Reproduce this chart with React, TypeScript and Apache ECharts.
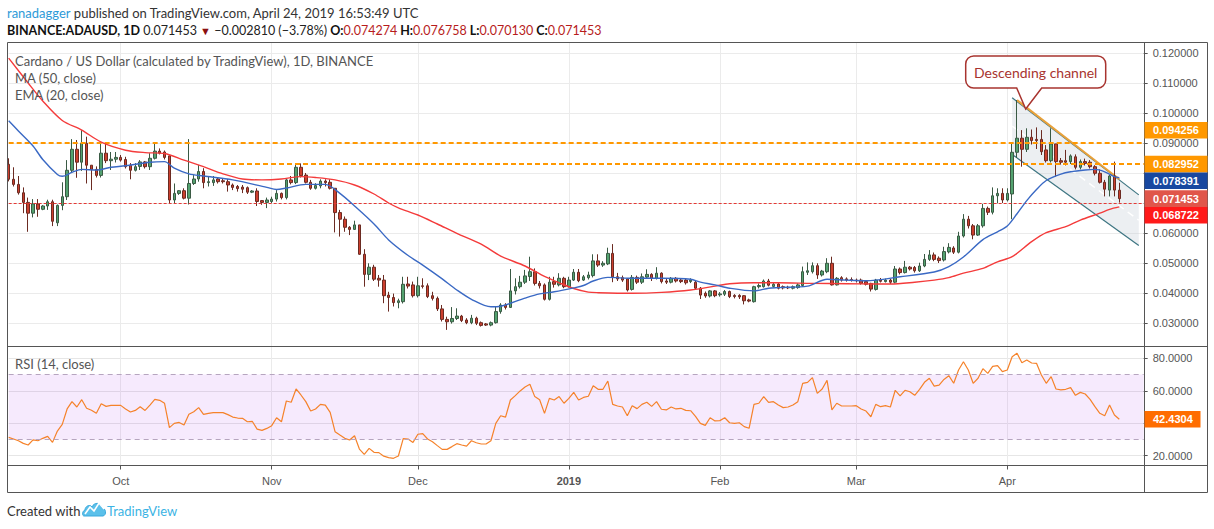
import React, { useEffect, useRef } from 'react';
import * as echarts from 'echarts';

// ---------- categories (one per day, Sep 8 2018 .. Apr 29 2019) ----------
const FIRST_DAY = Date.UTC(2018, 8, 8);
const DAY_COUNT = 234;
const categories: string[] = Array.from({ length: DAY_COUNT }, (_, i) =>
  new Date(FIRST_DAY + i * 86400000).toISOString().slice(0, 10)
);
const MONTH_NAMES = ['Jan', 'Feb', 'Mar', 'Apr', 'May', 'Jun', 'Jul', 'Aug', 'Sep', 'Oct', 'Nov', 'Dec'];

// ---------- daily OHLC ----------
const opens = [
  0.0829, 0.0779, 0.0762, 0.0734, 0.0702, 0.0666, 0.0697, 0.0679, 0.0690, 0.0704,
  0.0634, 0.0692, 0.0721, 0.0809, 0.0879, 0.0836, 0.0899, 0.0826, 0.0812, 0.0792,
  0.0866, 0.0841, 0.0846, 0.0852, 0.0845, 0.0826, 0.0809, 0.0822, 0.0837, 0.0821,
  0.0849, 0.0873, 0.0870, 0.0857, 0.0710, 0.0732, 0.0741, 0.0716, 0.0765, 0.0780,
  0.0805, 0.0768, 0.0768, 0.0780, 0.0774, 0.0771, 0.0760, 0.0755, 0.0753, 0.0751,
  0.0736, 0.0740, 0.0708, 0.0702, 0.0705, 0.0713, 0.0732, 0.0718, 0.0777, 0.0768,
  0.0819, 0.0793, 0.0769, 0.0749, 0.0757, 0.0773, 0.0769, 0.0749, 0.0668, 0.0646,
  0.0619, 0.0612, 0.0627, 0.0529, 0.0462, 0.0486, 0.0449, 0.0443, 0.0393, 0.0385,
  0.0368, 0.0371, 0.0430, 0.0427, 0.0391, 0.0424, 0.0424, 0.0391, 0.0382, 0.0347,
  0.0312, 0.0304, 0.0315, 0.0323, 0.0310, 0.0301, 0.0316, 0.0301, 0.0297, 0.0293,
  0.0301, 0.0338, 0.0360, 0.0352, 0.0407, 0.0421, 0.0436, 0.0455, 0.0471, 0.0432,
  0.0427, 0.0379, 0.0438, 0.0427, 0.0449, 0.0421, 0.0443, 0.0469, 0.0443, 0.0451,
  0.0458, 0.0507, 0.0493, 0.0497, 0.0532, 0.0454, 0.0451, 0.0447, 0.0412, 0.0452,
  0.0436, 0.0453, 0.0462, 0.0449, 0.0466, 0.0440, 0.0436, 0.0449, 0.0443, 0.0443,
  0.0438, 0.0436, 0.0416, 0.0399, 0.0390, 0.0407, 0.0394, 0.0396, 0.0405, 0.0392,
  0.0392, 0.0391, 0.0377, 0.0371, 0.0421, 0.0421, 0.0440, 0.0422, 0.0430, 0.0421,
  0.0419, 0.0416, 0.0418, 0.0425, 0.0469, 0.0471, 0.0491, 0.0460, 0.0471, 0.0499,
  0.0427, 0.0451, 0.0447, 0.0445, 0.0443, 0.0443, 0.0438, 0.0432, 0.0412, 0.0443,
  0.0438, 0.0443, 0.0436, 0.0480, 0.0468, 0.0486, 0.0485, 0.0474, 0.0490, 0.0512,
  0.0527, 0.0516, 0.0510, 0.0537, 0.0550, 0.0536, 0.0590, 0.0646, 0.0624, 0.0593,
  0.0624, 0.0682, 0.0669, 0.0724, 0.0732, 0.0710, 0.0730, 0.0869, 0.0916, 0.0879,
  0.0919, 0.0912, 0.0912, 0.0877, 0.0841, 0.0897, 0.0841, 0.0841, 0.0838, 0.0854,
  0.0819, 0.0838, 0.0836, 0.0821, 0.0799, 0.0769, 0.0743, 0.0790, 0.074274,
];
const closes = [
  0.0779, 0.0762, 0.0734, 0.0702, 0.0666, 0.0697, 0.0679, 0.0690, 0.0704, 0.0639,
  0.0692, 0.0721, 0.0809, 0.0879, 0.0836, 0.0899, 0.0826, 0.0812, 0.0792, 0.0866,
  0.0841, 0.0846, 0.0852, 0.0843, 0.0821, 0.0809, 0.0821, 0.0837, 0.0821, 0.0849,
  0.0873, 0.0866, 0.0852, 0.0710, 0.0732, 0.0741, 0.0716, 0.0765, 0.0780, 0.0805,
  0.0768, 0.0771, 0.0777, 0.0771, 0.0771, 0.0760, 0.0752, 0.0748, 0.0746, 0.0736,
  0.0740, 0.0705, 0.0702, 0.0710, 0.0713, 0.0732, 0.0718, 0.0777, 0.0768, 0.0819,
  0.0791, 0.0769, 0.0749, 0.0758, 0.0773, 0.0768, 0.0749, 0.0668, 0.0646, 0.0619,
  0.0612, 0.0627, 0.0529, 0.0462, 0.0486, 0.0446, 0.0443, 0.0391, 0.0385, 0.0368,
  0.0374, 0.0429, 0.0423, 0.0391, 0.0424, 0.0422, 0.0388, 0.0382, 0.0347, 0.0312,
  0.0304, 0.0315, 0.0323, 0.0308, 0.0301, 0.0316, 0.0299, 0.0292, 0.0293, 0.0301,
  0.0338, 0.0360, 0.0352, 0.0407, 0.0421, 0.0436, 0.0457, 0.0471, 0.0432, 0.0424,
  0.0379, 0.0436, 0.0429, 0.0449, 0.0421, 0.0443, 0.0469, 0.0441, 0.0454, 0.0460,
  0.0507, 0.0493, 0.0499, 0.0532, 0.0454, 0.0447, 0.0443, 0.0410, 0.0452, 0.0436,
  0.0454, 0.0462, 0.0449, 0.0466, 0.0438, 0.0436, 0.0449, 0.0440, 0.0438, 0.0434,
  0.0443, 0.0416, 0.0393, 0.0390, 0.0407, 0.0391, 0.0397, 0.0405, 0.0388, 0.0388,
  0.0387, 0.0374, 0.0373, 0.0421, 0.0425, 0.0440, 0.0426, 0.0429, 0.0416, 0.0417,
  0.0417, 0.0421, 0.0427, 0.0471, 0.0474, 0.0491, 0.0460, 0.0473, 0.0499, 0.0427,
  0.0449, 0.0443, 0.0443, 0.0443, 0.0441, 0.0432, 0.0429, 0.0413, 0.0443, 0.0439,
  0.0443, 0.0436, 0.0480, 0.0468, 0.0486, 0.0480, 0.0474, 0.0490, 0.0512, 0.0527,
  0.0512, 0.0508, 0.0538, 0.0552, 0.0536, 0.0590, 0.0646, 0.0624, 0.0593, 0.0624,
  0.0682, 0.0669, 0.0724, 0.0732, 0.0710, 0.0732, 0.0869, 0.0916, 0.0879, 0.0919,
  0.0908, 0.0908, 0.0871, 0.0841, 0.0897, 0.0838, 0.0836, 0.0836, 0.0857, 0.0819,
  0.0838, 0.0832, 0.0821, 0.0799, 0.0769, 0.0746, 0.0790, 0.0743, 0.071453,
];
const lows = [
  0.0772, 0.0755, 0.0728, 0.0666, 0.0604, 0.0652, 0.0654, 0.0676, 0.0677, 0.0623,
  0.0623, 0.0676, 0.0710, 0.0800, 0.0784, 0.0807, 0.0765, 0.0743, 0.0785, 0.0785,
  0.0833, 0.0810, 0.0835, 0.0838, 0.0815, 0.0779, 0.0805, 0.0810, 0.0815, 0.0810,
  0.0845, 0.0862, 0.0845, 0.0699, 0.0699, 0.0727, 0.0712, 0.0695, 0.0760, 0.0771,
  0.0749, 0.0755, 0.0757, 0.0765, 0.0765, 0.0738, 0.0743, 0.0738, 0.0733, 0.0730,
  0.0733, 0.0690, 0.0694, 0.0683, 0.0700, 0.0705, 0.0712, 0.0712, 0.0762, 0.0763,
  0.0785, 0.0765, 0.0744, 0.0745, 0.0749, 0.0755, 0.0745, 0.0602, 0.0588, 0.0604,
  0.0593, 0.0610, 0.0527, 0.0421, 0.0443, 0.0440, 0.0421, 0.0366, 0.0338, 0.0355,
  0.0349, 0.0365, 0.0415, 0.0385, 0.0385, 0.0415, 0.0383, 0.0375, 0.0340, 0.0305,
  0.0277, 0.0298, 0.0310, 0.0303, 0.0296, 0.0296, 0.0293, 0.0288, 0.0290, 0.0289,
  0.0298, 0.0331, 0.0345, 0.0350, 0.0395, 0.0415, 0.0430, 0.0440, 0.0425, 0.0415,
  0.0375, 0.0375, 0.0418, 0.0422, 0.0416, 0.0418, 0.0440, 0.0436, 0.0440, 0.0445,
  0.0452, 0.0487, 0.0487, 0.0493, 0.0436, 0.0440, 0.0437, 0.0405, 0.0408, 0.0430,
  0.0430, 0.0448, 0.0440, 0.0445, 0.0432, 0.0430, 0.0432, 0.0435, 0.0433, 0.0428,
  0.0433, 0.0410, 0.0380, 0.0384, 0.0385, 0.0386, 0.0388, 0.0390, 0.0383, 0.0382,
  0.0380, 0.0362, 0.0369, 0.0368, 0.0415, 0.0418, 0.0422, 0.0418, 0.0412, 0.0412,
  0.0413, 0.0412, 0.0414, 0.0420, 0.0460, 0.0465, 0.0447, 0.0455, 0.0466, 0.0425,
  0.0425, 0.0438, 0.0438, 0.0438, 0.0435, 0.0428, 0.0425, 0.0405, 0.0408, 0.0435,
  0.0435, 0.0430, 0.0432, 0.0462, 0.0465, 0.0475, 0.0468, 0.0470, 0.0486, 0.0507,
  0.0506, 0.0500, 0.0505, 0.0532, 0.0530, 0.0532, 0.0585, 0.0615, 0.0579, 0.0590,
  0.0618, 0.0660, 0.0662, 0.0699, 0.0700, 0.0705, 0.0646, 0.0850, 0.0821, 0.0870,
  0.0895, 0.0880, 0.0860, 0.0835, 0.0835, 0.0788, 0.0828, 0.0825, 0.0830, 0.0812,
  0.0812, 0.0825, 0.0815, 0.0792, 0.0765, 0.0722, 0.0722, 0.0722, 0.070130,
];
const highs = [
  0.0849, 0.0819, 0.0790, 0.0752, 0.0718, 0.0713, 0.0713, 0.0693, 0.0711, 0.0711,
  0.0695, 0.0769, 0.0843, 0.0913, 0.0910, 0.0943, 0.0921, 0.0826, 0.0822, 0.0899,
  0.0897, 0.0870, 0.0870, 0.0860, 0.0854, 0.0833, 0.0833, 0.0843, 0.0840, 0.0866,
  0.0898, 0.0882, 0.0875, 0.0859, 0.0765, 0.0743, 0.0749, 0.0913, 0.0793, 0.0827,
  0.0816, 0.0788, 0.0790, 0.0785, 0.0781, 0.0780, 0.0765, 0.0760, 0.0760, 0.0755,
  0.0743, 0.0749, 0.0710, 0.0718, 0.0721, 0.0743, 0.0735, 0.0780, 0.0790, 0.0832,
  0.0832, 0.0800, 0.0777, 0.0766, 0.0779, 0.0779, 0.0779, 0.0749, 0.0677, 0.0655,
  0.0623, 0.0641, 0.0627, 0.0546, 0.0499, 0.0494, 0.0460, 0.0460, 0.0404, 0.0398,
  0.0381, 0.0454, 0.0454, 0.0438, 0.0454, 0.0449, 0.0432, 0.0404, 0.0388, 0.0360,
  0.0321, 0.0353, 0.0349, 0.0327, 0.0316, 0.0327, 0.0321, 0.0305, 0.0300, 0.0305,
  0.0354, 0.0366, 0.0366, 0.0480, 0.0449, 0.0457, 0.0477, 0.0521, 0.0482, 0.0440,
  0.0432, 0.0454, 0.0454, 0.0466, 0.0454, 0.0454, 0.0480, 0.0480, 0.0460, 0.0471,
  0.0529, 0.0529, 0.0506, 0.0551, 0.0563, 0.0467, 0.0458, 0.0449, 0.0460, 0.0458,
  0.0465, 0.0479, 0.0466, 0.0486, 0.0469, 0.0449, 0.0453, 0.0453, 0.0447, 0.0447,
  0.0449, 0.0440, 0.0420, 0.0405, 0.0410, 0.0410, 0.0403, 0.0410, 0.0408, 0.0396,
  0.0396, 0.0393, 0.0381, 0.0424, 0.0432, 0.0445, 0.0447, 0.0434, 0.0434, 0.0425,
  0.0424, 0.0425, 0.0432, 0.0488, 0.0502, 0.0502, 0.0499, 0.0477, 0.0516, 0.0521,
  0.0453, 0.0456, 0.0452, 0.0452, 0.0448, 0.0448, 0.0443, 0.0434, 0.0447, 0.0450,
  0.0448, 0.0447, 0.0490, 0.0485, 0.0507, 0.0490, 0.0490, 0.0501, 0.0530, 0.0543,
  0.0535, 0.0522, 0.0554, 0.0566, 0.0556, 0.0604, 0.0663, 0.0657, 0.0630, 0.0630,
  0.0697, 0.0688, 0.0752, 0.0749, 0.0749, 0.0749, 0.0899, 0.1043, 0.0943, 0.0949,
  0.0945, 0.0952, 0.0943, 0.0893, 0.0949, 0.0897, 0.0850, 0.0877, 0.0862, 0.0862,
  0.0845, 0.0848, 0.0843, 0.0826, 0.0812, 0.0777, 0.0793, 0.0838, 0.076758,
];

// ---------- RSI (14, close), one value per candle ----------
const rsiValues = [
  31.3, 30.3, 29.2, 27.6, 26.6, 29.7, 29.2, 30.7, 31.9, 28.2,
  35.2, 39.3, 48.8, 53.3, 50.0, 54.5, 49.2, 48.0, 46.1, 52.0,
  50.4, 51.0, 51.0, 51.0, 48.8, 46.9, 47.9, 50.2, 47.9, 51.2,
  54.7, 54.1, 52.3, 37.3, 39.9, 40.5, 38.9, 45.5, 47.1, 49.6,
  45.5, 46.1, 46.5, 46.5, 46.5, 45.3, 43.8, 43.2, 43.0, 40.9,
  41.2, 36.4, 35.6, 36.8, 38.5, 43.4, 40.9, 53.7, 52.9, 61.1,
  57.4, 53.3, 47.5, 48.8, 51.6, 51.2, 46.7, 34.8, 32.7, 30.7,
  29.7, 32.3, 24.1, 20.8, 24.5, 22.1, 21.9, 19.7, 18.8, 18.4,
  19.8, 30.5, 30.3, 28.2, 33.2, 33.6, 30.3, 28.6, 26.2, 23.9,
  23.9, 25.6, 27.4, 26.6, 25.9, 29.2, 28.0, 27.2, 27.2, 29.2,
  39.9, 44.6, 43.8, 54.3, 57.0, 59.9, 62.3, 64.0, 56.4, 54.5,
  46.1, 55.3, 54.3, 56.4, 52.3, 55.3, 59.0, 54.3, 55.9, 56.6,
  63.1, 60.9, 60.9, 66.0, 51.6, 50.6, 50.0, 44.6, 50.8, 49.0,
  51.6, 52.9, 50.4, 53.3, 48.6, 48.2, 50.0, 48.8, 49.2, 47.9,
  47.7, 44.2, 39.9, 38.7, 43.4, 41.4, 41.6, 43.4, 40.3, 39.9,
  40.3, 37.9, 36.9, 51.6, 52.3, 56.4, 52.9, 53.3, 51.2, 49.6,
  50.0, 51.2, 53.3, 64.6, 65.2, 68.1, 58.4, 61.1, 66.4, 48.2,
  52.3, 50.6, 50.6, 50.6, 50.8, 48.8, 47.5, 44.0, 51.6, 50.2,
  50.8, 50.0, 60.3, 56.8, 60.3, 59.4, 57.2, 60.9, 65.2, 67.7,
  62.9, 63.5, 67.0, 69.3, 64.6, 72.8, 77.9, 72.8, 64.6, 67.7,
  73.6, 70.7, 75.0, 75.5, 71.8, 72.8, 81.0, 83.1, 77.3, 78.9,
  77.1, 76.9, 69.7, 64.6, 68.7, 61.1, 60.5, 60.9, 61.9, 57.2,
  59.0, 58.0, 54.7, 50.2, 46.1, 44.6, 51.2, 45.1, 42.4304,
];

// ---------- moving averages: [day index, value] ----------
const ma50Points: [number, number][] = [
  [0, 0.1183], [4, 0.1100], [7, 0.1040], [11, 0.0975], [15, 0.0943], [19, 0.0903],
  [24, 0.0876], [28, 0.0868], [32, 0.0865], [36, 0.0843], [40, 0.0821], [44, 0.0797],
  [48, 0.0780], [52, 0.0777], [56, 0.0780], [60, 0.0788], [63, 0.0785], [67, 0.0777],
  [71, 0.0760], [75, 0.0730], [78, 0.0700], [80, 0.0684], [84, 0.0660], [88, 0.0630],
  [92, 0.0599], [97, 0.0563], [101, 0.0523], [106, 0.0490], [110, 0.0455], [113, 0.0434],
  [116, 0.0415], [119, 0.0403], [121, 0.0401], [128, 0.0399], [134, 0.0402], [140, 0.0410],
  [145, 0.0423], [148, 0.0431], [153, 0.0434], [158, 0.0434], [165, 0.0432], [172, 0.0431],
  [178, 0.0430], [181, 0.0430], [186, 0.0436], [190, 0.0443], [193, 0.0451], [196, 0.0466],
  [200, 0.0482], [203, 0.0504], [206, 0.0521], [210, 0.0571], [213, 0.0601], [217, 0.0621],
  [220, 0.0643], [224, 0.0666], [226, 0.0679], [228, 0.0687],
];
const ema20Points: [number, number][] = [
  [0, 0.0974], [2, 0.0940], [5, 0.0890], [7, 0.0845], [10, 0.0795], [11, 0.0789],
  [13, 0.0802], [15, 0.0812], [18, 0.0810], [21, 0.0819], [24, 0.0824], [29, 0.0836],
  [32, 0.0838], [34, 0.0816], [37, 0.0797], [40, 0.0790], [46, 0.0777], [53, 0.0752],
  [55, 0.0745], [57, 0.0750], [61, 0.0762], [65, 0.0762], [68, 0.0732], [71, 0.0690],
  [75, 0.0630], [78, 0.0577], [82, 0.0525], [85, 0.0493], [89, 0.0447], [92, 0.0410],
  [95, 0.0379], [99, 0.0354], [101, 0.0356], [106, 0.0383], [109, 0.0397], [112, 0.0404],
  [116, 0.0417], [118, 0.0425], [120, 0.0440], [123, 0.0452], [128, 0.0449], [134, 0.0449],
  [140, 0.0446], [142, 0.0436], [145, 0.0427], [148, 0.0416], [153, 0.0407], [156, 0.0416],
  [158, 0.0418], [164, 0.0423], [168, 0.0446], [172, 0.0443], [176, 0.0441], [183, 0.0454],
  [190, 0.0470], [193, 0.0488], [196, 0.0520], [200, 0.0578], [203, 0.0604], [205, 0.0623],
  [207, 0.0664], [209, 0.0708], [211, 0.0745], [213, 0.0775], [216, 0.0796], [218, 0.0804],
  [221, 0.0810], [223, 0.0812], [225, 0.0804], [227, 0.0788], [228, 0.0784],
];

// ---------- drawings ----------
const resistanceHigh = 0.094256;
const resistanceLow = 0.082952;
const resistanceLowStartDay = 44;
const lastClose = 0.071453;
const channelX = [206, 232];
const channelTop = [0.1051, 0.0727];
const channelBottom = [0.0862, 0.0558];
const trendX = [207, 228];
const trendY = [0.1043, 0.0779];

const priceTags = [
  { value: 0.094256, color: '#FF9800' },
  { value: 0.082952, color: '#FF9800' },
  { value: 0.078391, color: '#1848A0' },
  { value: 0.071453, color: '#E0564A' },
  { value: 0.068722, color: '#FF1A1A' },
];
const rsiLast = 42.4304;

// callout bubble and logo shapes
echarts.graphic.registerShape(
  'callout',
  echarts.graphic.extendPath(
    'M8,0 L132,0 A8,8 0 0 1 140,8 L140,24 A8,8 0 0 1 132,32 L76,32 L60,53 L51,32 L8,32 A8,8 0 0 1 0,24 L0,8 A8,8 0 0 1 8,0 Z',
    {}
  )
);
echarts.graphic.registerShape(
  'tvlogo',
  echarts.graphic.extendPath(
    'M2,17 C0,17 0,12 3,11 C3,7 8,5 10,8 C12,3 19,3 20,9 C24,9 25,16 21,17 Z',
    {}
  )
);

const FONT = 'Lato, "Noto Sans", sans-serif';
const AXIS_FONT = '"Liberation Sans", Arial, sans-serif';
const isMonthStart = (index: number) => categories[index] && categories[index].slice(8) === '01';

// axis labels that the reference shows hidden under a value tag
const hiddenUnderPriceTag = (v: number) => priceTags.some((t) => Math.abs(t.value - v) < 0.0025);
const hiddenUnderRsiTag = (v: number) => Math.abs(rsiLast - v) < 5;

function buildOption(): any {
  const candleData = opens.map((o, i) => [o, closes[i], lows[i], highs[i]]);
  return {
    animation: false,
    backgroundColor: '#ffffff',
    grid: [
      { left: 8.67, top: 42.5, width: 1135, height: 303.5 },
      { left: 8.67, top: 346.5, width: 1135, height: 119 },
    ],
    xAxis: [
      {
        type: 'category', gridIndex: 0, data: categories, boundaryGap: false,
        axisLine: { show: false }, axisTick: { show: false }, axisLabel: { show: false },
        splitLine: { show: true, interval: isMonthStart, lineStyle: { color: '#ebebeb', width: 1 } },
      },
      {
        type: 'category', gridIndex: 1, data: categories, boundaryGap: false,
        axisLine: { show: false },
        axisTick: { show: true, interval: isMonthStart, length: 4, lineStyle: { color: '#555' } },
        axisLabel: {
          show: true, interval: isMonthStart, margin: 10, color: '#555', fontSize: 11, fontFamily: AXIS_FONT,
          formatter: (value: string) => {
            const m = Number(value.slice(5, 7)) - 1;
            return m === 0 ? '{y|' + value.slice(0, 4) + '}' : MONTH_NAMES[m];
          },
          rich: { y: { fontWeight: 'bold', color: '#555', fontSize: 11, fontFamily: AXIS_FONT } },
        },
        splitLine: { show: true, interval: isMonthStart, lineStyle: { color: '#ebebeb', width: 1 } },
      },
    ],
    yAxis: [
      {
        type: 'value', gridIndex: 0, position: 'right', min: 0.02233, max: 0.1235,
        minInterval: 0.01, maxInterval: 0.01, splitNumber: 10,
        axisLine: { show: false },
        axisTick: { show: true, length: 4, lineStyle: { color: '#555' } },
        axisLabel: {
          showMinLabel: false, showMaxLabel: false, margin: 9, color: '#555', fontSize: 11, fontFamily: AXIS_FONT,
          formatter: (v: number) => (hiddenUnderPriceTag(v) ? '' : v.toFixed(6)),
        },
        splitLine: { show: true, lineStyle: { color: '#ebebeb', width: 1 } },
      },
      {
        type: 'value', gridIndex: 1, position: 'right', min: 13.96, max: 87.27,
        minInterval: 20, maxInterval: 20, splitNumber: 4,
        axisLine: { show: false },
        axisTick: { show: true, length: 4, lineStyle: { color: '#555' } },
        axisLabel: {
          showMinLabel: false, showMaxLabel: false, margin: 9, color: '#555', fontSize: 11, fontFamily: AXIS_FONT,
          formatter: (v: number) => (hiddenUnderRsiTag(v) ? '' : v.toFixed(4)),
        },
        splitLine: { show: true, lineStyle: { color: '#e6e6e6', width: 1 } },
      },
    ],
    series: [
      {
        type: 'custom', name: 'channel', xAxisIndex: 0, yAxisIndex: 0, z: 1, silent: true, clip: true,
        data: [[channelX[0], channelTop[0]]],
        encode: { x: 0, y: 1 },
        renderItem: (_params: any, api: any) => {
          const tl = api.coord([channelX[0], channelTop[0]]);
          const tr = api.coord([channelX[1], channelTop[1]]);
          const bl = api.coord([channelX[0], channelBottom[0]]);
          const br = api.coord([channelX[1], channelBottom[1]]);
          const ml = [(tl[0] + bl[0]) / 2, (tl[1] + bl[1]) / 2];
          const mr = [(tr[0] + br[0]) / 2, (tr[1] + br[1]) / 2];
          const t0 = api.coord([trendX[0], trendY[0]]);
          const t1 = api.coord([trendX[1], trendY[1]]);
          return {
            type: 'group',
            children: [
              { type: 'polygon', shape: { points: [tl, tr, br, bl] }, style: { fill: 'rgba(196,204,216,0.32)' } },
              { type: 'line', shape: { x1: ml[0], y1: ml[1], x2: mr[0], y2: mr[1] }, style: { stroke: '#ffffff', lineWidth: 1.5, lineDash: [7, 5] } },
              { type: 'line', shape: { x1: tl[0], y1: tl[1], x2: tr[0], y2: tr[1] }, style: { stroke: '#3d7582', lineWidth: 1.2 } },
              { type: 'line', shape: { x1: bl[0], y1: bl[1], x2: br[0], y2: br[1] }, style: { stroke: '#3d7582', lineWidth: 1.2 } },
              { type: 'line', z2: 10, shape: { x1: t0[0], y1: t0[1], x2: t1[0], y2: t1[1] }, style: { stroke: '#E8A13A', lineWidth: 2 } },
            ],
          };
        },
      },
      {
        type: 'candlestick', name: 'ADAUSD', xAxisIndex: 0, yAxisIndex: 0, barWidth: 3, z: 3,
        data: candleData,
        itemStyle: {
          color: '#53A26F', color0: '#CC3F2E',
          borderColor: '#3A5A44', borderColor0: '#6B2B22', borderWidth: 1,
        },
        markLine: {
          symbol: ['none', 'none'], silent: true, label: { show: false }, z: 4,
          data: [
            { yAxis: resistanceHigh, lineStyle: { color: '#FF9800', width: 2, type: [5, 3] } },
            [
              { coord: [categories[resistanceLowStartDay], resistanceLow], lineStyle: { color: '#FF9800', width: 2, type: [5, 3] } },
              { coord: [categories[DAY_COUNT - 1], resistanceLow] },
            ],
            { yAxis: lastClose, lineStyle: { color: '#E53935', width: 1, type: [3, 2] } },
          ],
        },
      },
      {
        type: 'line', name: 'MA (50, close)', xAxisIndex: 0, yAxisIndex: 0, z: 4,
        data: ma50Points.map(([i, v]) => [categories[i], v]),
        smooth: 0.3, showSymbol: false, color: '#F43B3B',
        lineStyle: { color: '#F43B3B', width: 1.4 },
      },
      {
        type: 'line', name: 'EMA (20, close)', xAxisIndex: 0, yAxisIndex: 0, z: 4,
        data: ema20Points.map(([i, v]) => [categories[i], v]),
        smooth: 0.3, showSymbol: false, color: '#3A69C4',
        lineStyle: { color: '#3A69C4', width: 1.4 },
      },
      {
        type: 'line', name: 'RSI (14, close)', xAxisIndex: 1, yAxisIndex: 1, z: 4,
        data: rsiValues, showSymbol: false, color: '#F5822A',
        lineStyle: { color: '#F5822A', width: 1.2 },
        markArea: {
          silent: true, itemStyle: { color: 'rgba(170,60,240,0.11)' },
          data: [[{ yAxis: 30 }, { yAxis: 70 }]],
        },
        markLine: {
          symbol: ['none', 'none'], silent: true, label: { show: false },
          lineStyle: { color: '#B6A5BF', width: 1, type: [5, 4] },
          data: [{ yAxis: 30 }, { yAxis: 70 }],
        },
      },
    ],
  };
}

function staticGraphics(): any[] {
  const frame = '#555555';
  const line = (x1: number, y1: number, x2: number, y2: number) => ({
    type: 'line', z: 100, silent: true, shape: { x1, y1, x2, y2 }, style: { stroke: frame, lineWidth: 1 },
  });
  const txt = (x: number, y: number, text: string, size: number, color: string, extra: any = {}) => ({
    type: 'text', z: 100, silent: true, x, y,
    style: { text, fill: color, fontSize: size, fontFamily: FONT, verticalAlign: 'middle', ...extra },
  });
  return [
    // header
    {
      type: 'text', z: 100, x: 7, y: 13, silent: true,
      style: {
        text: '{u|ranadagger}{n| published on TradingView.com, April 24, 2019 16:53:49 UTC}',
        verticalAlign: 'middle', fontFamily: FONT, fontSize: 13,
        rich: {
          u: { fill: '#2D9AD8', fontFamily: FONT, fontSize: 13 },
          n: { fill: '#333333', fontFamily: FONT, fontSize: 13 },
        },
      },
    },
    {
      type: 'text', z: 100, x: 7, y: 30, silent: true,
      style: {
        text: '{b|BINANCE:ADAUSD, 1D}{n| 0.071453 }{r|▼}{n| −0.002810 (−3.78%) }{b|O:}{v|0.074274}{b| H:}{v|0.076758}{b| L:}{v|0.070130}{b| C:}{v|0.071453}',
        verticalAlign: 'middle', fontFamily: FONT, fontSize: 12.5,
        rich: {
          b: { fill: '#111111', fontWeight: 'bold', fontFamily: FONT, fontSize: 12.5 },
          n: { fill: '#222222', fontFamily: FONT, fontSize: 12.5 },
          r: { fill: '#8B1010', fontFamily: FONT, fontSize: 11 },
          v: { fill: '#B71C1C', fontFamily: FONT, fontSize: 12.5 },
        },
      },
    },
    // frame
    line(7.5, 42.5, 1207.5, 42.5),
    line(7.5, 492.5, 1207.5, 492.5),
    line(7.5, 42.5, 7.5, 492.5),
    line(1207.5, 42.5, 1207.5, 492.5),
    line(7.5, 346.5, 1207.5, 346.5),
    line(7.5, 465.5, 1207.5, 465.5),
    line(1144.5, 42.5, 1144.5, 492.5),
    // pane legends
    txt(15, 61, 'Cardano / US Dollar (calculated by TradingView), 1D, BINANCE', 13, '#555555'),
    txt(15, 78, 'MA (50, close)', 13, '#555555'),
    txt(15, 95, 'EMA (20, close)', 13, '#555555'),
    txt(15, 364, 'RSI (14, close)', 13, '#555555'),
    // callout
    { type: 'callout', z: 100, x: 965.7, y: 56, silent: true, style: { fill: '#ffffff', stroke: '#A8342F', lineWidth: 1.5 } },
    txt(1035.7, 72.5, 'Descending channel', 14, '#A8342F', { align: 'center' }),
    // footer
    txt(7, 511, 'Created with', 13, '#333333'),
    { type: 'tvlogo', z: 100, x: 82, y: 499, silent: true, style: { fill: '#5BC0EA', stroke: '#3BA9DD', lineWidth: 1 } },
    {
      type: 'polyline', z: 101, silent: true,
      shape: { points: [[85, 514], [90, 507], [94, 511], [99, 503], [104, 509]] },
      style: { stroke: '#ffffff', lineWidth: 1.6, fill: 'none' },
    },
    txt(107, 511, 'TradingView', 13, '#3BB3E4'),
  ];
}

export default function App() {
  const ref = useRef<HTMLDivElement>(null);
  useEffect(() => {
    const el = ref.current;
    if (!el) return;
    const chart = echarts.init(el, undefined, { renderer: 'svg' });
    chart.setOption(buildOption());

    const tagH = 16.6;
    const tagElements: any[] = [];
    let prev = -Infinity;
    priceTags
      .map((t) => ({ ...t, y: chart.convertToPixel({ yAxisIndex: 0 }, t.value) as number }))
      .sort((a, b) => a.y - b.y)
      .forEach((t) => {
        const cy = Math.max(t.y, prev + tagH);
        prev = cy;
        tagElements.push({
          type: 'rect', z: 110, silent: true,
          shape: { x: 1144.5, y: cy - tagH / 2, width: 63, height: tagH },
          style: { fill: t.color },
        });
        tagElements.push({
          type: 'text', z: 111, silent: true, x: 1153, y: cy,
          style: { text: t.value.toFixed(6), fill: '#ffffff', fontSize: 11, fontWeight: 'bold', fontFamily: AXIS_FONT, verticalAlign: 'middle' },
        });
      });
    const ry = chart.convertToPixel({ yAxisIndex: 1 }, rsiLast) as number;
    tagElements.push({
      type: 'rect', z: 110, silent: true,
      shape: { x: 1144.5, y: ry - tagH / 2, width: 56, height: tagH },
      style: { fill: '#FF6D00' },
    });
    tagElements.push({
      type: 'text', z: 111, silent: true, x: 1153, y: ry,
      style: { text: rsiLast.toFixed(4), fill: '#ffffff', fontSize: 11, fontWeight: 'bold', fontFamily: AXIS_FONT, verticalAlign: 'middle' },
    });

    chart.setOption({ graphic: { elements: [...staticGraphics(), ...tagElements] } });
    return () => chart.dispose();
  }, []);
  return (
    <div
      ref={ref}
      style={{ position: 'absolute', left: 0, top: 0, width: 1214, height: 529, background: '#ffffff' }}
    />
  );
}
